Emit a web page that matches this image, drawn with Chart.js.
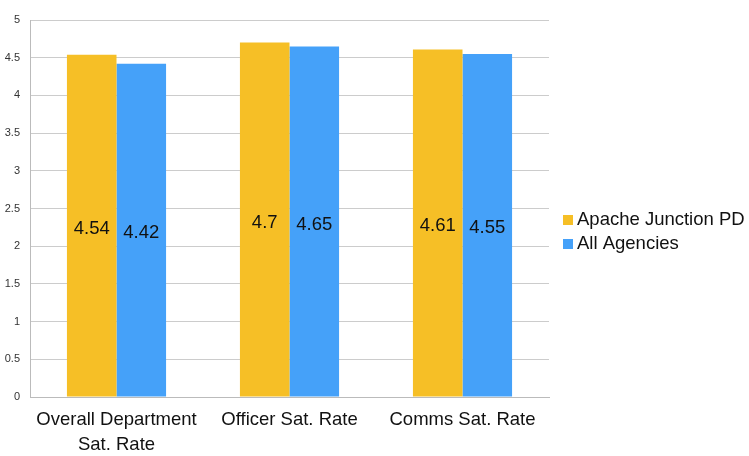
<!DOCTYPE html>
<html>
<head>
<meta charset="utf-8">
<script src="https://cdn.jsdelivr.net/npm/chart.js@4"></script>
<style>
  body { margin: 0; background: #fff; }
  #wrap { width: 749px; height: 456px; }
</style>
</head>
<body>
<div id="wrap"><canvas id="chart"></canvas></div>
<script>
// data
const categories = [['Overall Department', 'Sat. Rate'], 'Officer Sat. Rate', 'Comms Sat. Rate'];
const apacheValues = [4.54, 4.7, 4.61];
const allAgencyValues = [4.42, 4.65, 4.55];
const seriesNames = ['Apache Junction PD', 'All Agencies'];

const FONT = '"Liberation Sans", Arial, sans-serif';

// draws the value in the middle of each bar
const barLabels = {
    id: 'barLabels',
    afterDatasetsDraw(chart) {
        const ctx = chart.ctx;
        ctx.save();
        ctx.font = '18.5px ' + FONT;
        ctx.fillStyle = '#111';
        ctx.textAlign = 'center';
        ctx.textBaseline = 'middle';
        chart.data.datasets.forEach((ds, i) => {
            chart.getDatasetMeta(i).data.forEach((bar, j) => {
                const mid = (bar.y + bar.base) / 2 + 3;
                ctx.fillText(String(ds.data[j]), bar.x, mid);
            });
        });
        ctx.restore();
    }
};

// legend on the right, drawn by hand so it is not clipped
const sideLegend = {
    id: 'sideLegend',
    afterDraw(chart) {
        const ctx = chart.ctx;
        const x = chart.chartArea.right + 14;
        let y = 220;
        ctx.save();
        ctx.font = '18.5px ' + FONT;
        ctx.textBaseline = 'middle';
        chart.data.datasets.forEach(ds => {
            ctx.fillStyle = ds.backgroundColor;
            ctx.fillRect(x, y - 5, 10, 10);
            ctx.fillStyle = '#111';
            ctx.fillText(ds.label, x + 14, y);
            y += 24;
        });
        ctx.restore();
    }
};

new Chart(document.getElementById('chart'), {
    type: 'bar',
    data: {
        labels: categories,
        datasets: [
            { label: seriesNames[0], data: apacheValues, backgroundColor: '#f6bf26' },
            { label: seriesNames[1], data: allAgencyValues, backgroundColor: '#45a1f9' }
        ]
    },
    options: {
        responsive: true,
        maintainAspectRatio: false,
        animation: false,
        layout: { padding: { top: 20, left: 4, right: 200, bottom: 0 } },
        datasets: { bar: { categoryPercentage: 0.573, barPercentage: 1 } },
        plugins: {
            legend: { display: false },
            tooltip: { enabled: false }
        },
        scales: {
            x: {
                afterFit(scale) { scale.height = 59; },
                grid: { display: false },
                border: { color: '#bbb' },
                ticks: {
                    color: '#111',
                    maxRotation: 0,
                    padding: 2,
                    font: { size: 18.5, family: FONT, lineHeight: 1.35 }
                }
            },
            y: {
                min: 0,
                max: 5,
                afterFit(scale) { scale.width = 26; },
                grid: { color: '#ccc', drawTicks: false },
                border: { color: '#bbb' },
                ticks: {
                    stepSize: 0.5,
                    padding: 10,
                    color: '#333',
                    font: { size: 11, family: FONT },
                    callback: v => String(v)
                }
            }
        }
    },
    plugins: [barLabels, sideLegend]
});
</script>
</body>
</html>
